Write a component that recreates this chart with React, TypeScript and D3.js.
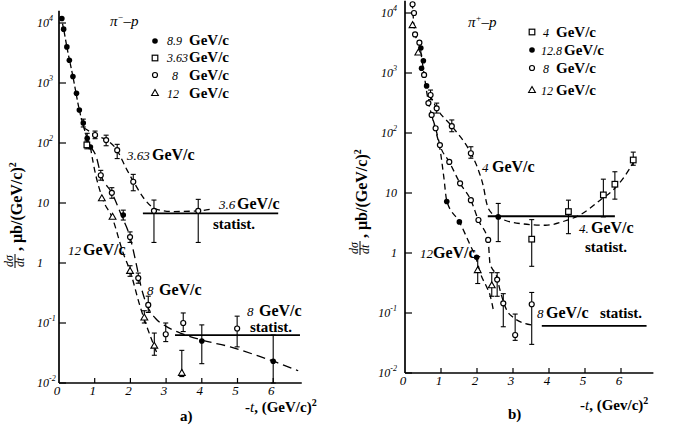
import React from 'react';
import * as d3 from 'd3';

// [ -t, dsigma/dt, errLo, errHi ]
type Pt = [number, number, number?, number?];

const FONT = '"Liberation Serif", "DejaVu Serif", serif';

const tTicks = [0, 1, 2, 3, 4, 5, 6];
const yTicks = [1e4, 1e3, 1e2, 10, 1, 0.1, 0.01];
const yTickLabels = [['10', '4'], ['10', '3'], ['10', '2'], ['10', ''], ['1', ''], ['10', '-1'], ['10', '-2']];

// ---------- a) pi- p
const a89Filled: Pt[] = [
  [0.08, 11900], [0.13, 7900], [0.22, 4000], [0.29, 2400], [0.39, 1280], [0.49, 675],
  [0.57, 355], [0.68, 215, 185, 250], [0.79, 120, 100, 145], [0.88, 86],
  [1.8, 6.3, 5.2, 7.6], [4.0, 0.05, 0.021, 0.093], [6.0, 0.023, 0.01, 0.063],
];
const a363Square: Pt[] = [[0.78, 93, 80, 108]];
const a363Open: Pt[] = [
  [1.01, 136, 118, 158], [1.32, 112, 90, 135], [1.63, 76, 55, 95], [2.08, 22.6, 16, 30],
  [2.66, 7.4, 2.2, 11.2], [3.9, 7.4, 2.2, 11.5],
];
const a8Open: Pt[] = [
  [1.17, 29, 24, 35], [1.48, 14.8, 12, 18], [1.99, 2.7, 2.2, 3.3], [2.22, 0.56, 0.46, 0.68],
  [2.5, 0.2, 0.15, 0.28], [2.99, 0.065, 0.049, 0.1], [3.48, 0.1, 0.072, 0.147],
  [4.99, 0.081, 0.04, 0.13],
];
const a12Tri: Pt[] = [
  [1.2, 12], [1.5, 5.9], [1.99, 0.74, 0.6, 0.9], [2.39, 0.124, 0.1, 0.16],
  [2.67, 0.042, 0.029, 0.068], [3.44, 0.0148, 0.0128, 0.035],
];
const a89Curve: [number, number][] = [
  [0.05, 13000], [0.13, 7900], [0.22, 4000], [0.39, 1280], [0.57, 355], [0.79, 120], [0.88, 86],
];
const a363Curve: [number, number][] = [
  [0.7, 178], [0.9, 150], [1.0, 136], [1.3, 115], [1.6, 80], [1.9, 36], [2.1, 22], [2.4, 11.5],
  [2.7, 8], [3.2, 7.2], [3.9, 7.4], [4.32, 8],
];
const a8Curve: [number, number][] = [
  [0.88, 86], [1.04, 60], [1.17, 30], [1.48, 14.8], [1.76, 6], [1.99, 2.7], [2.18, 0.87],
  [2.3, 0.4], [2.46, 0.2], [2.7, 0.12], [3.0, 0.088], [3.4, 0.068], [4.0, 0.052],
  [4.8, 0.04], [5.6, 0.028], [6.1, 0.022], [6.7, 0.016],
];
const a12Curve: [number, number][] = [
  [0.88, 86], [0.96, 46], [1.24, 11], [1.48, 5.9], [1.8, 1.45], [1.99, 0.74], [2.27, 0.19],
  [2.6, 0.052], [2.74, 0.032],
];
const aStat363 = { from: 2.35, to: 6.14, value: 6.7 };
const aStat8 = { from: 3.25, to: 6.75, value: 0.063 };

// ---------- b) pi+ p
const b4Square: Pt[] = [
  [3.52, 1.7, 0.6, 3.6], [4.54, 4.9, 2.1, 7.6], [5.51, 9.3, 4, 17], [5.83, 14, 7.9, 22.6],
  [6.34, 35.5, 29, 48],
];
const b4Open: Pt[] = [
  [0.71, 430, 360, 520], [0.88, 258, 215, 315], [1.3, 130, 105, 165], [1.83, 46, 38, 59],
];
const b128Filled: Pt[] = [
  [0.44, 2600], [0.46, 1200], [0.51, 1600], [0.6, 610], [1.16, 7.2], [1.51, 3.3],
  [1.99, 0.85], [2.59, 4.0, 1.55, 6.7],
];
const b8Open: Pt[] = [
  [0.21, 14000], [0.25, 10000], [0.28, 4400], [0.4, 3200], [0.53, 930], [0.65, 315],
  [0.74, 200], [0.85, 120], [0.97, 63], [1.23, 33], [1.53, 14.5], [1.83, 7.6],
  [2.04, 3.55], [2.31, 1.65], [2.56, 0.36, 0.19, 0.47], [2.73, 0.145, 0.059, 0.21],
  [3.06, 0.043, 0.035, 0.096], [3.52, 0.14, 0.03, 0.22],
];
const b12Tri: Pt[] = [[0.21, 6300], [0.37, 2200], [2.02, 0.52, 0.31, 0.87], [2.41, 0.29, 0.19, 0.47]];
const b8Curve: [number, number][] = [
  [0.2, 15000], [0.28, 4400], [0.4, 3000], [0.53, 950], [0.65, 330], [0.74, 200], [0.85, 120],
  [0.97, 63], [1.23, 33], [1.53, 14.5], [1.83, 7.6], [2.04, 3.5], [2.31, 1.6], [2.36, 0.68],
  [2.55, 0.4], [2.64, 0.24], [2.83, 0.11], [3.0, 0.085], [3.52, 0.063],
];
const b12Curve: [number, number][] = [
  [0.74, 200], [0.85, 110], [0.97, 55], [1.08, 18], [1.16, 7.4], [1.51, 3.3], [1.8, 1.4],
  [1.99, 0.76], [2.1, 0.45], [2.27, 0.27], [2.36, 0.2], [2.47, 0.1],
];
const b4Curve: [number, number][] = [
  [0.69, 430], [0.88, 258], [1.3, 130], [1.83, 46], [2.04, 24], [2.18, 12.6], [2.27, 6.7],
  [2.41, 4.6], [2.73, 3.6], [3.19, 3.1], [3.9, 2.9], [4.49, 3.5], [4.86, 4.3], [5.42, 7.6],
  [5.83, 12], [6.25, 26], [6.43, 40],
];
const bStat4 = { from: 2.3, to: 5.83, value: 4.1 };
const bStat8 = { from: 3.8, to: 6.71, value: 0.061 };

const aLegend = [
  { kind: 'filled', num: '8.9' }, { kind: 'square', num: '3.63' },
  { kind: 'open', num: '8' }, { kind: 'tri', num: '12' },
];
const bLegend = [
  { kind: 'square', num: '4' }, { kind: 'filled', num: '12.8' },
  { kind: 'open', num: '8' }, { kind: 'tri', num: '12' },
];

// ---------- scales
const aX = d3.scaleLinear().domain([0, 6]).range([59, 273.2]);
const aY = d3.scaleLog().domain([0.01, 1e4]).range([383, 23]);
const bX = d3.scaleLinear().domain([0, 6]).range([405, 621]);
const bY = d3.scaleLog().domain([0.01, 1e4]).range([373, 13]);

type Sx = d3.ScaleLinear<number, number>;
type Sy = d3.ScaleLogarithmic<number, number>;

function Marker({ kind, x, y }: { kind: string; x: number; y: number }) {
  if (kind === 'filled') return <circle cx={x} cy={y} r={2.8} fill="#000" />;
  if (kind === 'open') return <circle cx={x} cy={y} r={2.5} fill="#fff" stroke="#000" strokeWidth={1.2} />;
  if (kind === 'square')
    return <rect x={x - 2.8} y={y - 2.8} width={5.6} height={5.6} fill="#fff" stroke="#000" strokeWidth={1.2} />;
  const s = 3.4;
  return (
    <path d={`M${x},${y - s}L${x + s},${y + s * 0.75}L${x - s},${y + s * 0.75}Z`} fill="#fff" stroke="#000" strokeWidth={1.1} />
  );
}

function Series({ data, kind, sx, sy }: { data: Pt[]; kind: string; sx: Sx; sy: Sy }) {
  return (
    <g>
      {data.map((d, i) => {
        const x = sx(d[0]);
        if (d[2] == null || d[3] == null) return null;
        const y1 = sy(d[2]);
        const y2 = sy(d[3]);
        return (
          <g key={'e' + i} stroke="#000" strokeWidth={1.1}>
            <line x1={x} x2={x} y1={y1} y2={y2} />
            <line x1={x - 2.5} x2={x + 2.5} y1={y1} y2={y1} />
            <line x1={x - 2.5} x2={x + 2.5} y1={y2} y2={y2} />
          </g>
        );
      })}
      {data.map((d, i) => (
        <Marker key={i} kind={kind} x={sx(d[0])} y={sy(d[1])} />
      ))}
    </g>
  );
}

function Curve({ data, sx, sy, dash = '6,4' }: { data: [number, number][]; sx: Sx; sy: Sy; dash?: string }) {
  const line = d3
    .line<[number, number]>()
    .x((d) => sx(d[0]))
    .y((d) => sy(d[1]))
    .curve(d3.curveMonotoneX);
  return <path d={line(data) || ''} fill="none" stroke="#000" strokeWidth={1.3} strokeDasharray={dash} />;
}

function Stat({ s, sx, sy }: { s: { from: number; to: number; value: number }; sx: Sx; sy: Sy }) {
  return <line x1={sx(s.from)} x2={sx(s.to)} y1={sy(s.value)} y2={sy(s.value)} stroke="#000" strokeWidth={1.8} />;
}

function Axes({ sx, sy, tMax, left, tickLabelAnchor }: { sx: Sx; sy: Sy; tMax: number; left: number; tickLabelAnchor: string }) {
  const x0 = sx(0);
  const yb = sy(0.01);
  return (
    <g fontFamily={FONT}>
      <line x1={x0} x2={x0} y1={sy(1.6e4)} y2={yb} stroke="#000" strokeWidth={1.7} />
      <line x1={x0} x2={sx(tMax)} y1={yb} y2={yb} stroke="#000" strokeWidth={1.7} />
      {yTicks.map((v) => (
        <line key={v} x1={x0} x2={x0 + 7} y1={sy(v)} y2={sy(v)} stroke="#000" strokeWidth={1.2} />
      ))}
      {tTicks.slice(1).map((t) => (
        <line key={t} x1={sx(t)} x2={sx(t)} y1={yb} y2={yb - 5} stroke="#000" strokeWidth={1.2} />
      ))}
      {yTicks.map((v, i) => (
        <text key={v} x={left} y={sy(v) + 4} fontSize={12} fontStyle="italic" textAnchor={tickLabelAnchor}>
          {yTickLabels[i][0]}
          {yTickLabels[i][1] && (
            <tspan dy={-6} fontSize={8}>
              {yTickLabels[i][1]}
            </tspan>
          )}
        </text>
      ))}
      {tTicks.map((t) => (
        <text key={t} x={sx(t) - 2} y={yb + 12} fontSize={13} fontStyle="italic" textAnchor="middle">
          {t}
        </text>
      ))}
    </g>
  );
}

function YTitle({ x, y }: { x: number; y: number }) {
  return (
    <g transform={`translate(${x},${y}) rotate(-90)`} fontFamily={FONT}>
      <text x={1} y={-2} fontSize={12} fontStyle="italic">dσ</text>
      <line x1={0} x2={14} y1={0} y2={0} stroke="#000" strokeWidth={1} />
      <text x={1} y={9} fontSize={12} fontStyle="italic">dt</text>
      <text x={17} y={7} fontSize={16} fontWeight="bold">
        , μb/(GeV/c)
        <tspan dy={-6} fontSize={10}>2</tspan>
      </text>
    </g>
  );
}

function GeV({ y, num, numX, gevX, size = 16 }: { y: number; num: string; numX: number; gevX: number; size?: number }) {
  return (
    <text y={y} fontFamily={FONT} fontSize={size}>
      <tspan x={numX} fontStyle="italic" fontSize={size - 3}>{num}</tspan>
      <tspan x={gevX} fontWeight="bold">GeV/c</tspan>
    </text>
  );
}

export default function App() {
  return (
    <svg width={679} height={427} style={{ position: 'absolute', left: 0, top: 0, background: '#fff' }}>
      <rect width={679} height={427} fill="#fff" />

      {/* ---------- panel a ---------- */}
      <Axes sx={aX} sy={aY} tMax={6.8} left={37} tickLabelAnchor="start" />
      <Curve data={a89Curve} sx={aX} sy={aY} dash="5,3" />
      <Curve data={a363Curve} sx={aX} sy={aY} />
      <Curve data={a8Curve} sx={aX} sy={aY} dash="9,5" />
      <Curve data={a12Curve} sx={aX} sy={aY} />
      <Stat s={aStat363} sx={aX} sy={aY} />
      <Stat s={aStat8} sx={aX} sy={aY} />
      <Series data={a89Filled} kind="filled" sx={aX} sy={aY} />
      <Series data={a363Square} kind="square" sx={aX} sy={aY} />
      <Series data={a363Open} kind="open" sx={aX} sy={aY} />
      <Series data={a8Open} kind="open" sx={aX} sy={aY} />
      <Series data={a12Tri} kind="tri" sx={aX} sy={aY} />

      <text x={110} y={26} fontFamily={FONT} fontSize={15} fontStyle="italic">
        π<tspan dy={-6} fontSize={9}>−</tspan><tspan dy={6}>–p</tspan>
      </text>
      {aLegend.map((l, i) => (
        <g key={i}>
          <Marker kind={l.kind} x={155} y={[41, 58, 75, 93][i]} />
          <GeV y={[45, 62, 80, 98][i]} num={l.num} numX={l.num.length === 1 ? 172 : 167} gevX={189} size={15} />
        </g>
      ))}
      <GeV y={160} num="3.63" numX={127} gevX={152} />
      <GeV y={209} num="3.6" numX={219} gevX={237} />
      <text x={213} y={229} fontFamily={FONT} fontSize={15} fontWeight="bold">statist.</text>
      <GeV y={255} num="12" numX={68} gevX={83} />
      <GeV y={295} num="8" numX={147} gevX={159} />
      <GeV y={316} num="8" numX={247} gevX={259} />
      <text x={250} y={332} fontFamily={FONT} fontSize={15} fontWeight="bold">statist.</text>
      <text x={180} y={421} fontFamily={FONT} fontSize={15} fontWeight="bold">a)</text>
      <text x={245} y={412} fontFamily={FONT} fontSize={15} fontWeight="bold">
        -<tspan fontStyle="italic" fontWeight="normal">t</tspan>, (GeV/c)<tspan dy={-6} fontSize={10}>2</tspan>
      </text>
      <YTitle x={15} y={268} />

      {/* ---------- panel b ---------- */}
      <Axes sx={bX} sy={bY} tMax={6.9} left={397} tickLabelAnchor="end" />
      <Curve data={b8Curve} sx={bX} sy={bY} />
      <Curve data={b12Curve} sx={bX} sy={bY} />
      <Curve data={b4Curve} sx={bX} sy={bY} />
      <Stat s={bStat4} sx={bX} sy={bY} />
      <Stat s={bStat8} sx={bX} sy={bY} />
      <Series data={b4Square} kind="square" sx={bX} sy={bY} />
      <Series data={b4Open} kind="open" sx={bX} sy={bY} />
      <Series data={b8Open} kind="open" sx={bX} sy={bY} />
      <Series data={b12Tri} kind="tri" sx={bX} sy={bY} />
      <Series data={b128Filled} kind="filled" sx={bX} sy={bY} />

      <text x={468} y={27} fontFamily={FONT} fontSize={15} fontStyle="italic">
        π<tspan dy={-6} fontSize={9}>+</tspan><tspan dy={6}>–p</tspan>
      </text>
      {bLegend.map((l, i) => (
        <g key={i}>
          <Marker kind={l.kind} x={532} y={[32, 50, 68, 90][i]} />
          <GeV y={[37, 55, 73, 95][i]} num={l.num} numX={l.num.length === 1 ? 543 : 541} gevX={l.num.length > 2 ? 564 : 556} size={15} />
        </g>
      ))}
      <GeV y={172} num="4" numX={482} gevX={492} />
      <GeV y={233} num="4." numX={579} gevX={591} />
      <text x={585} y={252} fontFamily={FONT} fontSize={15} fontWeight="bold">statist.</text>
      <GeV y={258} num="12" numX={420} gevX={433} />
      <GeV y={318} num="8" numX={537} gevX={546} />
      <text x={600} y={318} fontFamily={FONT} fontSize={15} fontWeight="bold">statist.</text>
      <text x={508} y={419} fontFamily={FONT} fontSize={15} fontWeight="bold">b)</text>
      <text x={580} y={410} fontFamily={FONT} fontSize={15} fontWeight="bold">
        -<tspan fontStyle="italic" fontWeight="normal">t</tspan>, (Gev/c)<tspan dy={-6} fontSize={10}>2</tspan>
      </text>
      <YTitle x={360} y={255} />
    </svg>
  );
}
